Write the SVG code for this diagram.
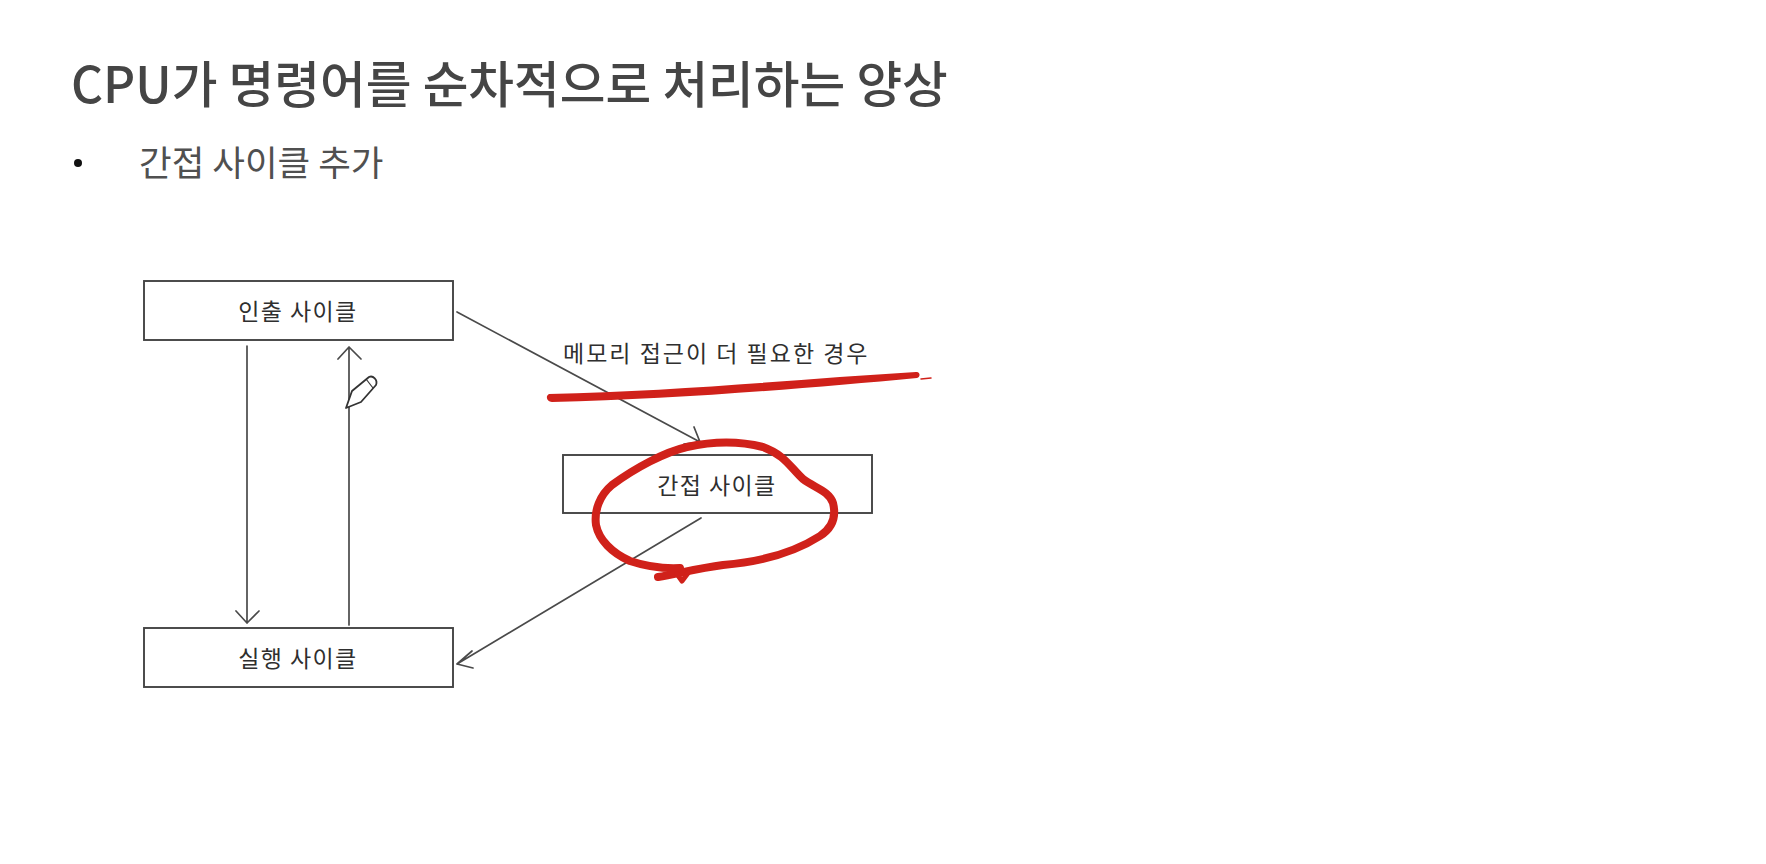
<svg xmlns="http://www.w3.org/2000/svg" width="1766" height="864" viewBox="0 0 1766 864">
<style>
.t{font-family:"Noto Sans CJK KR","Noto Sans",sans-serif}
.title{font-size:49.7px;fill:#454545;font-weight:500}
.sub{font-size:35.5px;fill:#505050;font-weight:400}
.hand{font-size:23px;fill:#2f2f2f;letter-spacing:1.4px;font-weight:400}
.box{fill:#fff;stroke:#444;stroke-width:1.9}
.line{fill:none;stroke:#4a4a4a;stroke-width:1.7;stroke-linecap:round;stroke-linejoin:round}
.red{fill:none;stroke:#d0211a;stroke-linecap:round;stroke-linejoin:round}
</style>
<rect width="1766" height="864" fill="#fff"/>
<text class="t title" x="71" y="103">CPU가 명령어를 순차적으로 처리하는 양상</text>
<circle cx="78" cy="163" r="4" fill="#111"/>
<text class="t sub" x="139" y="176">간접 사이클 추가</text>
<g id="node-fetch"><rect class="box" x="144" y="281" width="309" height="59"/><text class="t hand" x="298" y="320" text-anchor="middle">인출 사이클</text></g>
<g id="node-indirect"><rect class="box" x="563" y="455" width="309" height="58"/><text class="t hand" x="717" y="494" text-anchor="middle">간접 사이클</text></g>
<g id="node-exec"><rect class="box" x="144" y="628" width="309" height="59"/><text class="t hand" x="298" y="667" text-anchor="middle">실행 사이클</text></g>
<g id="connectors">
<path class="line" d="M247 346V623M236 611L247 623L259 611"/>
<path class="line" d="M349 625V347M338 359L349 347L361 359"/>
<path class="line" d="M457 312L700 442M694 427L700 442L684 444"/>
<path class="line" d="M701 518L457 664M472 651L457 664L473 668"/>
</g>
<text class="t hand" x="563" y="362" style="letter-spacing:2px">메모리 접근이 더 필요한 경우</text>
<g id="annotations">
<path d="M549 394C545 396 547 402 552 402C680 399 810 388 917 378C921 377 920 371 916 372C800 379 680 391 549 394Z" fill="#d0211a"/>
<path class="red" stroke-width="1.5" d="M921 379L931 378"/>
<path class="red" stroke-width="8" d="M658 577C680 573 700 568 723 565C760 562 795 552 820 536C834 527 836 515 833 503C829 491 815 488 803 479C790 467 785 455 763 447C735 440 710 442 687 447C665 452 635 468 612 485C600 495 594 510 596 525C599 540 612 553 630 561C645 566 660 569 680 568"/>
<path class="red" stroke-width="5" d="M677 574L682 581L688 573"/>
</g>
<g id="pencil-cursor">
<path d="M346 408L352 391L369 377C373 375 378 380 376 385L361 402Z" fill="#fff" stroke="#333" stroke-width="1.8" stroke-linejoin="round"/>
<path d="M366 379L373 388" fill="none" stroke="#333" stroke-width="1.2"/>
</g>
</svg>
